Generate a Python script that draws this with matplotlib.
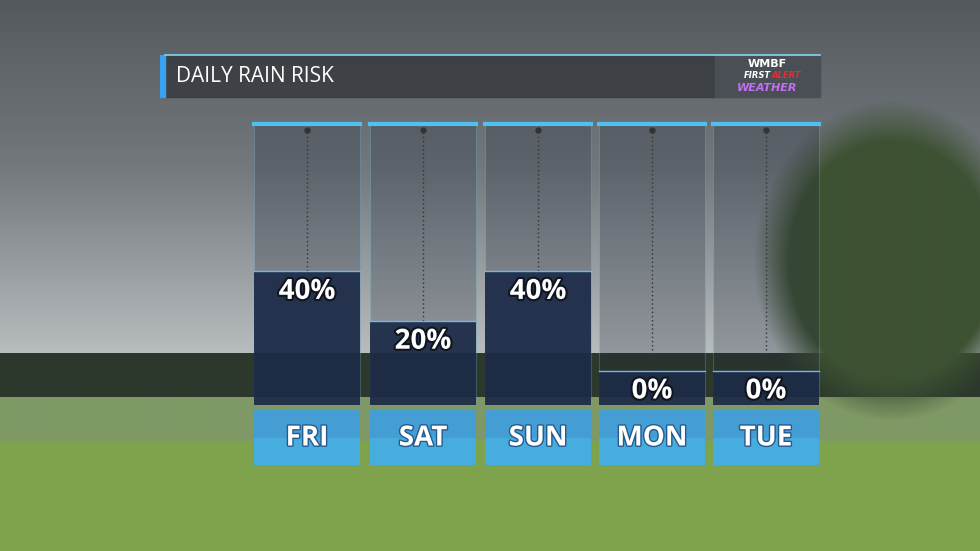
import numpy as np
import matplotlib
matplotlib.use("Agg")
import matplotlib.pyplot as plt
from matplotlib.patches import Rectangle
import matplotlib.patheffects as pe

days = ["FRI", "SAT", "SUN", "MON", "TUE"]
rain = [40, 20, 40, 0, 0]
title = "DAILY RAIN RISK"

W, H = 980, 551
fig = plt.figure(figsize=(W/100, H/100), dpi=100)
ax = fig.add_axes([0, 0, 1, 1])
ax.set_xlim(0, W); ax.set_ylim(H, 0); ax.axis("off")

# background photo approximation
img = np.zeros((H, W, 3))
sky_top = np.array([0.33, 0.35, 0.37]); sky_mid = np.array([0.45, 0.47, 0.49]); sky_low = np.array([0.72, 0.74, 0.75])
for i in range(H):
    t = i / H
    if t < 0.3:
        c = sky_top + (sky_mid - sky_top) * (t / 0.3)
    elif t < 0.64:
        c = sky_mid + (sky_low - sky_mid) * ((t - 0.3) / 0.34)
    elif t < 0.72:
        c = np.array([0.17, 0.22, 0.17])
    elif t < 0.80:
        c = np.array([0.50, 0.60, 0.40])
    else:
        c = np.array([0.50, 0.64, 0.30])
    img[i, :] = c
yy, xx = np.mgrid[0:H, 0:W]
d = np.sqrt((xx - 890) ** 2 / 120 ** 2 + (yy - 260) ** 2 / 140 ** 2)
w = np.clip((1.15 - d) / 0.3, 0, 1)[..., None]
img = img * (1 - w) + np.array([0.24, 0.32, 0.20]) * w
ax.imshow(np.clip(img, 0, 1), extent=[0, W, H, 0], zorder=0)

# header
ax.add_patch(Rectangle((160, 55), 555, 42, color="#3b3e42", alpha=0.92, zorder=2))
ax.add_patch(Rectangle((160, 55), 5, 42, color="#3aa0f0", zorder=3))
ax.plot([165, 820], [55, 55], color="#7fd8f0", lw=1.2, zorder=3)
ax.text(176, 76, title, color="white", fontsize=15, va="center", family="Open Sans", zorder=4)
ax.add_patch(Rectangle((715, 55), 105, 42, color="#4a4f55", zorder=2))
ax.text(767, 64, "WMBF", color="white", fontsize=8, fontweight="bold", ha="center", va="center", zorder=4)
ax.text(757, 76, "FIRST", color="white", fontsize=6, fontweight="bold", style="italic", ha="center", va="center", zorder=4)
ax.text(786, 76, "ALERT", color="#e03030", fontsize=6, fontweight="bold", style="italic", ha="center", va="center", zorder=4)
ax.text(767, 88, "WEATHER", color="#c070f0", fontsize=8, fontweight="bold", style="italic", ha="center", va="center", zorder=4)

lefts = [254, 370, 485, 599, 713]
cw = 106
top, base = 122, 405
base_h, per = 34, 2.49
shadow = [pe.withStroke(linewidth=3, foreground="#10151f")]
for l, dname, v in zip(lefts, days, rain):
    ax.add_patch(Rectangle((l, top), cw, base - top, facecolor="#202838", alpha=0.25,
                           edgecolor="#6fd0e8", lw=0.8, zorder=2))
    ax.plot([l, l + cw], [top + 1.5, top + 1.5], color="#4fc0f0", lw=3, zorder=3)
    cx = l + cw / 2
    h = base_h + v * per
    ax.plot([cx, cx], [132, base - h], color="#333", lw=1, ls=(0, (1, 2)), zorder=3)
    ax.plot(cx, 130, "o", color="#333", ms=3.5, zorder=3)
    ax.add_patch(Rectangle((l, base - h), cw, h, facecolor="#1d2b48", alpha=0.92, zorder=3))
    ax.plot([l, l + cw], [base - h, base - h], color="#6fb8e8", lw=1, zorder=4)
    ax.text(cx, base - h + 20, f"{v}%", color="white", fontsize=20, fontweight="bold",
            ha="center", va="center", family="Open Sans", path_effects=shadow, zorder=5)
    ax.add_patch(Rectangle((l, 410), cw, 55, facecolor="#3f9fe0", alpha=0.9, zorder=3))
    ax.add_patch(Rectangle((l, 438), cw, 27, facecolor="#49b8e8", alpha=0.6, zorder=3))
    ax.text(cx, 438, dname, color="white", fontsize=20, fontweight="bold", ha="center", va="center",
            family="Open Sans", path_effects=[pe.withStroke(linewidth=2, foreground="#245a90")], zorder=5)

fig.savefig("out.png", dpi=100)
